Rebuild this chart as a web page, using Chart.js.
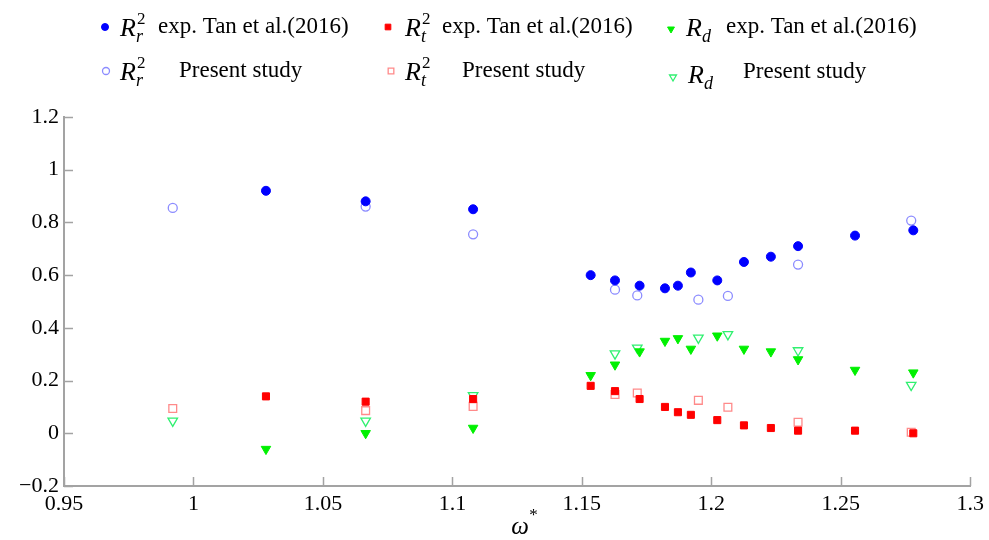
<!DOCTYPE html>
<html>
<head>
<meta charset="utf-8">
<script src="https://cdn.jsdelivr.net/npm/chart.js@4/dist/chart.umd.min.js"></script>
<style>
  html, body { margin: 0; padding: 0; background: #fff; }
  canvas { display: block; }
</style>
</head>
<body>
<canvas id="chart" width="989" height="540"></canvas>
<script>
// Experimental points, Tan et al. (2016)
const expOmega = [1.028, 1.0665, 1.108, 1.1534, 1.1628, 1.1723, 1.1821, 1.1871, 1.1921, 1.2023, 1.2126, 1.2230, 1.2335, 1.2555, 1.278];
const expRr2   = [0.92, 0.88, 0.85, 0.60, 0.58, 0.56, 0.55, 0.56, 0.61, 0.58, 0.65, 0.67, 0.71, 0.75, 0.77];
const expRt2   = [0.14, 0.12, 0.13, 0.18, 0.16, 0.13, 0.10, 0.08, 0.07, 0.05, 0.03, 0.02, 0.01, 0.01, 0.00];
const expRd    = [-0.06, 0.00, 0.02, 0.22, 0.26, 0.31, 0.35, 0.36, 0.32, 0.37, 0.32, 0.31, 0.28, 0.24, 0.23];

// Present study
const simOmega = [0.992, 1.0665, 1.108, 1.1628, 1.1714, 1.195, 1.2064, 1.2335, 1.2772];
const simRr2   = [0.855, 0.86, 0.755, 0.545, 0.523, 0.507, 0.521, 0.64, 0.807];
const simRt2   = [0.094, 0.086, 0.102, 0.147, 0.153, 0.125, 0.099, 0.042, 0.004];
const simRd    = [0.047, 0.047, 0.144, 0.302, 0.324, 0.362, 0.375, 0.314, 0.183];

// Tick labels
const xTickLabels = ['0.95', '1', '1.05', '1.1', '1.15', '1.2', '1.25', '1.3'];
const yTickLabels = ['\u22120.2', '0', '0.2', '0.4', '0.6', '0.8', '1', '1.2'];

// Legend entries: symbol R with sub/superscript + description
const legendSub  = ['r', 't', 'd', 'r', 't', 'd'];
const legendSup  = ['2', '2', '', '2', '2', ''];
const legendText = ['exp. Tan et al.(2016)', 'exp. Tan et al.(2016)', 'exp. Tan et al.(2016)',
                    'Present study', 'Present study', 'Present study'];

const SERIF = '"Liberation Serif", "Times New Roman", serif';
const AXIS_GREY = '#a3a3a3';

function toPoints(xs, ys) {
  return xs.map((x, i) => ({ x: x, y: ys[i] }));
}

const datasets = [
  { label: 'Rr2 exp', data: toPoints(expOmega, expRr2), pointStyle: 'circle', pointRadius: 4.5,
    backgroundColor: '#0000ff', borderColor: '#0000ff', borderWidth: 1, order: 1 },
  { label: 'Rt2 exp', data: toPoints(expOmega, expRt2), pointStyle: 'rect', pointRadius: 5,
    backgroundColor: '#ff0000', borderColor: '#ff0000', borderWidth: 1, order: 1 },
  { label: 'Rd exp', data: toPoints(expOmega, expRd), pointStyle: 'triangle', pointRadius: 5.5, rotation: 180,
    backgroundColor: '#00f000', borderColor: '#00f000', borderWidth: 1, order: 1 },
  { label: 'Rr2 present', data: toPoints(simOmega, simRr2), pointStyle: 'circle', pointRadius: 4.5,
    backgroundColor: 'rgba(0,0,0,0)', borderColor: '#8c8cff', borderWidth: 1.3, order: 2 },
  { label: 'Rt2 present', data: toPoints(simOmega, simRt2), pointStyle: 'rect', pointRadius: 5.5,
    backgroundColor: 'rgba(0,0,0,0)', borderColor: '#ff8a8a', borderWidth: 1.3, order: 2 },
  { label: 'Rd present', data: toPoints(simOmega, simRd), pointStyle: 'triangle', pointRadius: 5.5, rotation: 180,
    backgroundColor: 'rgba(0,0,0,0)', borderColor: '#30f070', borderWidth: 1.3, order: 2 }
];

// Legend slots (marker x/y, symbol x/y, text x/y)
const legendSlots = [
  { mx: 105, my: 27, rx: 120, ry: 29, tx: 158, ty: 27 },
  { mx: 388, my: 27, rx: 405, ry: 29, tx: 442, ty: 27 },
  { mx: 671, my: 29, rx: 686, ry: 29, tx: 726, ty: 27 },
  { mx: 106, my: 71, rx: 120, ry: 73, tx: 179, ty: 71 },
  { mx: 391, my: 71, rx: 405, ry: 73, tx: 462, ty: 71 },
  { mx: 673, my: 77, rx: 688, ry: 76, tx: 743, ty: 72 }
];

const decorPlugin = {
  id: 'decor',
  afterDraw(chart) {
    const ctx = chart.ctx;
    const xs = chart.scales.x;
    const ys = chart.scales.y;
    const area = chart.chartArea;

    // inward tick marks
    ctx.save();
    ctx.strokeStyle = AXIS_GREY;
    ctx.lineWidth = 1.5;
    ctx.beginPath();
    xs.ticks.forEach(t => {
      const px = Math.round(xs.getPixelForValue(t.value)) + 0.5;
      ctx.moveTo(px, area.bottom);
      ctx.lineTo(px, area.bottom - 9);
    });
    ys.ticks.forEach(t => {
      const py = Math.round(ys.getPixelForValue(t.value)) + 0.5;
      ctx.moveTo(area.left, py);
      ctx.lineTo(area.left + 9, py);
    });
    ctx.stroke();
    ctx.restore();

    // x axis title: omega*
    ctx.save();
    ctx.fillStyle = '#000';
    ctx.textBaseline = 'middle';
    ctx.textAlign = 'left';
    ctx.font = 'italic 25px ' + SERIF;
    const cx = (area.left + area.right) / 2;
    ctx.fillText('\u03c9', cx - 6, 527);
    ctx.font = '17px ' + SERIF;
    ctx.fillText('*', cx + 12, 516);
    ctx.restore();

    // legend
    ctx.save();
    chart.data.datasets.forEach((ds, i) => {
      const s = legendSlots[i];
      ctx.save();
      ctx.fillStyle = ds.backgroundColor;
      ctx.strokeStyle = ds.borderColor;
      ctx.lineWidth = ds.borderWidth;
      Chart.helpers.drawPoint(ctx, {
        pointStyle: ds.pointStyle,
        radius: ds.pointStyle === 'circle' ? 3.5 : 4,
        rotation: ds.rotation || 0,
        borderWidth: ds.borderWidth
      }, s.mx, s.my);
      ctx.restore();

      ctx.fillStyle = '#000';
      ctx.textAlign = 'left';
      ctx.textBaseline = 'middle';
      ctx.font = 'italic 26px ' + SERIF;
      ctx.fillText('R', s.rx, s.ry);
      const rw = ctx.measureText('R').width;
      if (legendSup[i]) {
        ctx.font = '17px ' + SERIF;
        ctx.fillText(legendSup[i], s.rx + rw + 1, s.ry - 9);
      }
      ctx.font = 'italic 18px ' + SERIF;
      ctx.fillText(legendSub[i], s.rx + rw, s.ry + 8);

      ctx.font = '23px ' + SERIF;
      ctx.fillText(legendText[i], s.tx, s.ty);
    });
    ctx.restore();
  }
};

const ctx = document.getElementById('chart').getContext('2d');
new Chart(ctx, {
  type: 'scatter',
  data: { datasets: datasets },
  options: {
    responsive: false,
    animation: false,
    devicePixelRatio: 1,
    layout: { padding: { top: 117, right: 17, left: 0, bottom: 0 } },
    plugins: {
      legend: { display: false },
      tooltip: { enabled: false }
    },
    scales: {
      x: {
        type: 'linear',
        min: 0.95,
        max: 1.3,
        afterFit: scale => { scale.height = 54; },
        ticks: {
          stepSize: 0.05,
          color: '#000',
          padding: 5,
          font: { family: SERIF, size: 22 },
          callback: (v, i) => xTickLabels[i]
        },
        grid: { drawOnChartArea: false, drawTicks: false },
        border: { display: true, color: AXIS_GREY, width: 2 }
      },
      y: {
        type: 'linear',
        min: -0.2,
        max: 1.2,
        afterFit: scale => { scale.width = 64; },
        ticks: {
          stepSize: 0.2,
          color: '#000',
          padding: 5,
          font: { family: SERIF, size: 22 },
          callback: (v, i) => yTickLabels[i]
        },
        grid: { drawOnChartArea: false, drawTicks: false },
        border: { display: true, color: AXIS_GREY, width: 2 }
      }
    }
  },
  plugins: [decorPlugin]
});
</script>
</body>
</html>
